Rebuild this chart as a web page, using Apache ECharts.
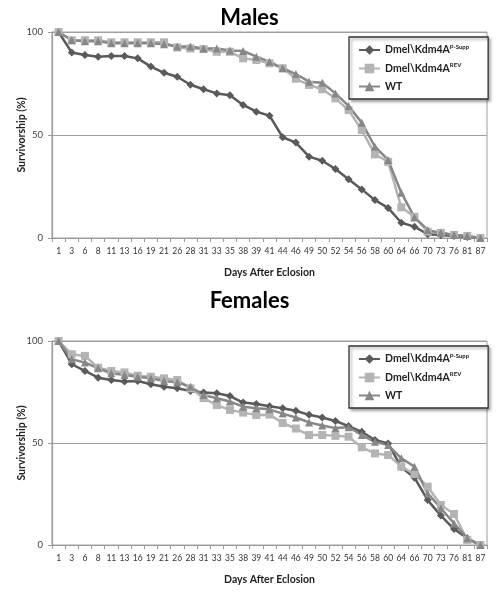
<!DOCTYPE html>
<html><head><meta charset="utf-8">
<script src="https://cdn.jsdelivr.net/npm/echarts@6/dist/echarts.min.js"></script>
<style>html,body{margin:0;padding:0;background:#fff}#c{width:499px;height:601px}</style>
</head><body><div id="c"></div>
<script>
const categories = ['1','3','6','8','11','13','16','19','21','26','28','31','33','35','38','39','41','44','46','49','50','52','54','56','58','60','64','66','70','73','76','81','87'];
const seriesNames = ['P-Supp','REV','WT'];
const maleTitle = 'Males';
const femaleTitle = 'Females';
const yTitle = 'Survivorship (%)';
const xTitle = 'Days After Eclosion';

const malePSupp = [100,90,88.8,88,88.3,88.3,87.2,83.2,80.2,78.3,74.4,72.2,70.2,69.3,64.6,61.3,59.4,48.9,46.3,39.5,37.5,33.5,28.5,23.6,18.4,14.6,7.4,5.5,1.8,1.5,1,0.5,0];
const maleREV   = [100,96,96,96,95,95,95,95,95,92.5,92,91.7,90.4,90.4,87.2,86.4,84.8,82.4,77.3,74.3,72.2,67.8,62.1,52.4,40.6,37,14.9,10.3,3.1,2.5,1.5,1,0];
const maleWT    = [100,96,95.5,95.5,94.5,94.5,94.5,94.5,94,93,93,92,92,91,90.8,88,85.6,82.4,79.6,75.9,75.4,70.2,64.1,56,44.3,37.9,22,10,3.9,2.5,1.5,1,0];

const femalePSupp = [100,88.6,85.3,82,80.9,80.1,80.4,78.8,77.6,76.8,75.5,74.8,74.4,73,69.8,69.1,68,67,65.8,63.8,62.5,60.8,58.3,55.5,51.5,49.8,38.1,33,22,14.4,7.8,3.3,0];
const femaleREV   = [100,93.5,92.7,86.9,85.3,84.6,83,82.5,81.7,80.9,76.8,72,68.6,66.2,64.9,63.7,63.9,59.8,57.1,53.9,53.9,53.5,53.1,47.9,44.9,44.1,38.4,34.8,28.6,19.6,15.2,2.5,0];
const femaleWT    = [100,91,89.5,86.6,84.2,83.3,82.5,81.7,80.4,79.8,77.6,73.5,71.9,70.3,67.8,67,66.5,64.4,62.5,60.1,58.6,57.3,57.7,53.9,50.6,49,42.5,38.4,25.3,18,10.6,3.3,0];

const colors = {'P-Supp':'#5a5a5a','REV':'#b4b4b4','WT':'#878787'};
const symbols = {'P-Supp':'diamond','REV':'rect','WT':'triangle'};
const symSizes = {'P-Supp':8,'REV':8,'WT':8};
const FONT = 'Lato';

function mkSeries(name, data, idx){
  return {
    name, type:'line', data, xAxisIndex:idx, yAxisIndex:idx,
    symbol:symbols[name], symbolSize:symSizes[name], showSymbol:true,
    lineStyle:{color:colors[name], width:2.5},
    itemStyle:{color:colors[name]},
    animation:false
  };
}
const grids = [
  {left:52, right:12, top:32, height:206, show:true, borderColor:'#a0a0a0', borderWidth:1},
  {left:52, right:12, top:341, height:204, show:true, borderColor:'#a0a0a0', borderWidth:1}
];
function xAx(i){
  return {type:'category', gridIndex:i, data:categories,
    axisLine:{lineStyle:{color:'#9a9a9a', width:1.2}},
    axisTick:{show:true, length:4, lineStyle:{color:'#9a9a9a'}},
    axisLabel:{fontFamily:FONT, fontSize:8.5, color:'#333', interval:0, margin:9},
    name:xTitle, nameLocation:'middle', nameGap:29,
    nameTextStyle:{fontFamily:FONT, fontWeight:'bold', fontSize:10.5, color:'#222'}};
}
function yAx(i){
  return {type:'value', gridIndex:i, min:0, max:100, interval:50,
    axisLine:{show:true, lineStyle:{color:'#9a9a9a', width:1.2}},
    axisTick:{show:true, length:4, lineStyle:{color:'#9a9a9a'}},
    splitLine:{show:true, lineStyle:{color:'#a0a0a0', width:1}},
    axisLabel:{fontFamily:FONT, fontSize:9.5, color:'#444', margin:9},
    name:yTitle, nameLocation:'middle', nameGap:25, nameRotate:90, nameMoveOverlap:false,
    nameTextStyle:{fontFamily:FONT, fontWeight:'bold', fontSize:10.5, color:'#222'}};
}
function legendFmt(n){
  if(n==='P-Supp') return '{b|Dmel\\Kdm4A}{s|P-Supp}';
  if(n==='REV') return '{b|Dmel\\Kdm4A}{s|REV}';
  return '{b|WT}';
}
function mkLegend(top){
  return {orient:'vertical', left:349, top:top, data:seriesNames,
    itemWidth:21, itemHeight:12, itemGap:7, padding:[7,19,7,9], width:130,
    backgroundColor:'#fff', borderColor:'#333', borderWidth:1.3,
    shadowColor:'rgba(0,0,0,0.35)', shadowBlur:3, shadowOffsetX:2, shadowOffsetY:2,
    formatter:legendFmt,
    textStyle:{fontFamily:FONT, rich:{
      b:{fontFamily:FONT, fontWeight:'bold', fontSize:10.5, color:'#222', lineHeight:12},
      s:{fontFamily:FONT, fontWeight:'bold', fontSize:6, color:'#222', verticalAlign:'top', lineHeight:12, padding:[0,0,5,0]}
    }}};
}
const chart = echarts.init(document.getElementById('c'), null, {renderer:'canvas'});
chart.setOption({
  animation:false,
  backgroundColor:'#fff',
  title:[
    {text:maleTitle, left:'center', top:2, textStyle:{fontFamily:FONT, fontWeight:'bold', fontSize:22, color:'#000'}},
    {text:femaleTitle, left:'center', top:285, textStyle:{fontFamily:FONT, fontWeight:'bold', fontSize:22, color:'#000'}}
  ],
  legend:[mkLegend(37), mkLegend(346)],
  grid:grids,
  xAxis:[xAx(0), xAx(1)],
  yAxis:[yAx(0), yAx(1)],
  series:[
    mkSeries('P-Supp', malePSupp, 0), mkSeries('REV', maleREV, 0), mkSeries('WT', maleWT, 0),
    mkSeries('P-Supp', femalePSupp, 1), mkSeries('REV', femaleREV, 1), mkSeries('WT', femaleWT, 1)
  ]
});
</script></body></html>
